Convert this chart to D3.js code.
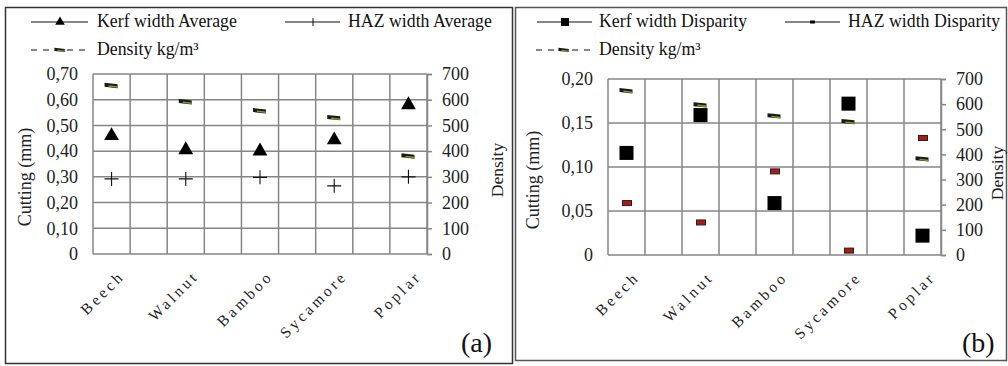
<!DOCTYPE html>
<html><head><meta charset="utf-8">
<script src="https://cdn.jsdelivr.net/npm/d3@7/dist/d3.min.js"></script>
<style>
html,body{margin:0;padding:0;background:#fff;}
svg{display:block;font-family:"Liberation Serif","Times New Roman",serif;}
svg text{font-family:"Liberation Serif","Times New Roman",serif;}
</style></head>
<body>
<svg id="chart" width="1008" height="366"></svg>
<script>
const categories = ["Beech", "Walnut", "Bamboo", "Sycamore", "Poplar"];
const kerfAverage = [0.46, 0.405, 0.40, 0.443, 0.58];
const hazAverage = [0.292, 0.292, 0.298, 0.265, 0.30];
const densityA = [655, 592, 557, 530, 381];
const kerfDisparity = [0.116, 0.159, 0.059, 0.172, 0.022];
const hazDisparity = [0.059, 0.037, 0.095, 0.005, 0.133];
const densityB = [653, 597, 553, 530, 382];
const leftTicksA = [0, 0.1, 0.2, 0.3, 0.4, 0.5, 0.6, 0.7];
const leftTickLabelsA = ["0", "0,10", "0,20", "0,30", "0,40", "0,50", "0,60", "0,70"];
const leftTicksB = [0, 0.05, 0.10, 0.15, 0.20];
const leftTickLabelsB = ["0", "0,05", "0,10", "0,15", "0,20"];
const rightTicks = [0, 100, 200, 300, 400, 500, 600, 700];
const rightTickLabels = ["0", "100", "200", "300", "400", "500", "600", "700"];

const svg = d3.select("#chart");
const GRID = "#868686";
const FONT = "Liberation Serif";

// panel frames
svg.append("rect").attr("x", 5.5).attr("y", 7.5).attr("width", 507).attr("height", 356)
  .attr("fill", "none").attr("stroke", "#333").attr("stroke-width", 1.5);
svg.append("rect").attr("x", 515.5).attr("y", 7.5).attr("width", 491).attr("height", 353)
  .attr("fill", "none").attr("stroke", "#555").attr("stroke-width", 1.5);

function drawPanel(cfg) {
  const g = svg.append("g");
  const x = d3.scalePoint().domain(categories).range([cfg.left, cfg.right]).padding(0.25);
  const y = d3.scaleLinear().domain([0, cfg.yMax]).range([cfg.bottom, cfg.top]);
  const y2 = d3.scaleLinear().domain([0, 700]).range([cfg.bottom, cfg.top]);
  const half = x.step() / 2;
  const nv = Math.round((cfg.right - cfg.left) / half);
  const vx = d3.range(nv + 1).map(i => cfg.left + i * half);

  // gridlines
  g.append("g").selectAll("line").data(cfg.leftTicks).join("line")
    .attr("x1", cfg.left).attr("x2", cfg.right)
    .attr("y1", d => y(d)).attr("y2", d => y(d))
    .attr("stroke", GRID).attr("stroke-width", 1.5);
  g.append("g").selectAll("line").data(vx).join("line")
    .attr("x1", d => d).attr("x2", d => d)
    .attr("y1", cfg.top).attr("y2", cfg.bottom)
    .attr("stroke", GRID).attr("stroke-width", 1.5);

  // left axis labels
  const la = d3.axisLeft(y).tickValues(cfg.leftTicks)
    .tickFormat((d, i) => cfg.leftLabels[i]).tickSize(0).tickPadding(15);
  const lag = g.append("g").attr("transform", `translate(${cfg.left},0)`).call(la)
    .attr("font-family", FONT).attr("font-size", 18);
  lag.select(".domain").remove();
  lag.selectAll("text").attr("fill", "#222");

  // right axis
  const ra = d3.axisRight(y2).tickValues(rightTicks)
    .tickFormat((d, i) => rightTickLabels[i]).tickSize(5).tickPadding(10);
  const rag = g.append("g").attr("transform", `translate(${cfg.right},0)`).call(ra)
    .attr("font-family", FONT).attr("font-size", 18);
  rag.select(".domain").attr("stroke", GRID).attr("stroke-width", 1.5);
  rag.selectAll(".tick line").attr("stroke", GRID).attr("stroke-width", 1.5);
  rag.selectAll("text").attr("fill", "#222");

  // axis titles
  g.append("text").attr("transform", `translate(${cfg.leftTitleX},${cfg.leftTitleY}) rotate(-90)`)
    .attr("text-anchor", "middle").attr("font-size", 18).attr("fill", "#222").text("Cutting (mm)");
  g.append("text").attr("transform", `translate(${cfg.rightTitleX},${cfg.rightTitleY}) rotate(-90)`)
    .attr("text-anchor", "middle").attr("font-size", 17.5).attr("fill", "#222").text("Density");

  // category labels
  g.append("g").selectAll("text").data(categories).join("text")
    .attr("transform", d => `translate(${x(d) + 14},${cfg.bottom + 23}) rotate(-45)`)
    .attr("text-anchor", "end").attr("font-size", 15.5).attr("letter-spacing", 3.2)
    .attr("fill", "#222").text(d => d);

  // panel letter
  g.append("text").attr("x", cfg.letterX).attr("y", 352).attr("font-size", 28)
    .attr("fill", "#111").text(cfg.letter);

  return { g, x, y, y2 };
}

function densityMarker(sel) {
  sel.append("rect").attr("x", -7).attr("y", -2).attr("width", 13).attr("height", 4)
    .attr("fill", "#1a1a1a").attr("transform", "skewY(6)");
  sel.append("line").attr("x1", -3).attr("x2", 6).attr("y1", 0.5).attr("y2", 1.5)
    .attr("stroke", "#7a9c2a").attr("stroke-width", 1.6);
}

// ---- Panel A ----
const A = drawPanel({
  left: 93, right: 427, top: 74, bottom: 254, yMax: 0.7,
  leftTicks: leftTicksA, leftLabels: leftTickLabelsA,
  leftTitleX: 31, leftTitleY: 177, rightTitleX: 503, rightTitleY: 170,
  letter: "(a)", letterX: 461
});
A.g.append("g").selectAll("g").data(densityA).join("g")
  .attr("transform", (d, i) => `translate(${A.x(categories[i])},${A.y2(d)})`)
  .each(function () { densityMarker(d3.select(this)); });
A.g.append("g").selectAll("path").data(kerfAverage).join("path")
  .attr("d", d3.symbol(d3.symbolTriangle, 95))
  .attr("transform", (d, i) => `translate(${A.x(categories[i])},${A.y(d)})`)
  .attr("fill", "#000");
A.g.append("g").selectAll("path").data(hazAverage).join("path")
  .attr("d", "M-7,0H7M0,-7V7")
  .attr("transform", (d, i) => `translate(${A.x(categories[i])},${A.y(d)})`)
  .attr("stroke", "#111").attr("stroke-width", 1.1).attr("fill", "none");

// ---- Panel B ----
const B = drawPanel({
  left: 608, right: 941, top: 79, bottom: 255, yMax: 0.2,
  leftTicks: leftTicksB, leftLabels: leftTickLabelsB,
  leftTitleX: 539, leftTitleY: 180, rightTitleX: 1003, rightTitleY: 173,
  letter: "(b)", letterX: 962
});
B.g.append("g").selectAll("g").data(densityB).join("g")
  .attr("transform", (d, i) => `translate(${B.x(categories[i])},${B.y2(d)})`)
  .each(function () { densityMarker(d3.select(this)); });
B.g.append("g").selectAll("rect").data(kerfDisparity).join("rect")
  .attr("x", (d, i) => B.x(categories[i]) - 7).attr("y", d => B.y(d) - 7)
  .attr("width", 14).attr("height", 14).attr("fill", "#000");
B.g.append("g").selectAll("rect").data(hazDisparity).join("rect")
  .attr("x", (d, i) => B.x(categories[i]) - 4).attr("y", d => B.y(d) - 2.5)
  .attr("width", 9).attr("height", 5).attr("fill", "#b01818")
  .attr("stroke", "#222").attr("stroke-width", 1);

// ---- Legends ----
function legendLine(x1, x2, y, dashed) {
  svg.append("line").attr("x1", x1).attr("x2", x2).attr("y1", y).attr("y2", y)
    .attr("stroke", "#111").attr("stroke-width", 1.2)
    .attr("stroke-dasharray", dashed ? "6,6" : null);
}
function legendText(x, y, t) {
  svg.append("text").attr("x", x).attr("y", y + 5).attr("font-size", 17.8)
    .attr("fill", "#111").text(t);
}
// A legend
legendLine(31, 88, 22, false);
svg.append("path").attr("d", d3.symbol(d3.symbolTriangle, 40)).attr("transform", "translate(60,22)");
legendText(97, 22, "Kerf width Average");
legendLine(285, 340, 22, false);
svg.append("path").attr("d", "M0,-4V4").attr("transform", "translate(313,22)").attr("stroke", "#111");
legendText(348, 22, "HAZ width Average");
legendLine(31, 88, 50, true);
svg.append("g").attr("transform", "translate(60,50) scale(0.8)").call(densityMarker);
legendText(97, 50, "Density kg/m³");
// B legend
legendLine(537, 592, 22, false);
svg.append("rect").attr("x", 561).attr("y", 18).attr("width", 8).attr("height", 8).attr("fill", "#000");
legendText(599, 22, "Kerf width Disparity");
legendLine(785, 840, 22, false);
svg.append("rect").attr("x", 810).attr("y", 20.5).attr("width", 5).attr("height", 3).attr("fill", "#000");
legendText(848, 22, "HAZ width Disparity");
legendLine(536, 592, 50, true);
svg.append("g").attr("transform", "translate(564,50) scale(0.8)").call(densityMarker);
legendText(599, 50, "Density kg/m³");
</script>
</body></html>
